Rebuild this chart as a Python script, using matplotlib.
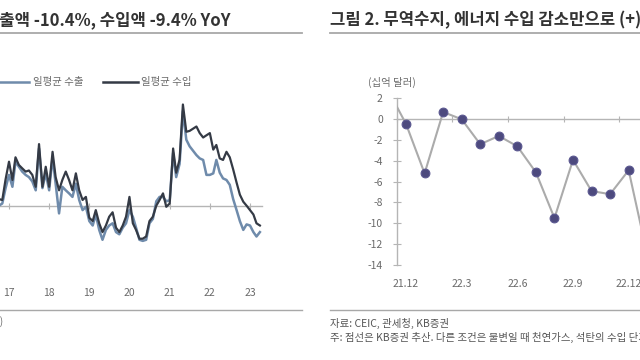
import numpy as np
import pandas as pd
import matplotlib
matplotlib.use('Agg')
import matplotlib.pyplot as plt
import matplotlib.dates as mdates
from matplotlib.lines import Line2D

plt.rcParams['font.family'] = ['Noto Sans CJK KR', 'DejaVu Sans']

# ---------------- data: left chart (daily-average exports / imports, % YoY) ----
months_left = pd.date_range('2016-08-01', periods=81, freq='MS')
import_yoy = [0, -3, 3, 2.6, 12, 20, 11.7, 22, 18.5, 17, 15.5, 16, 14,
              8.6, 28, 8.6, 17.7, 8.6, 24.5, 13, 7, 11.7, 15.5, 11.7, 7,
              14.7, 7, 2.6, 4, -5.5, -7, -2, -8, -12, -9, -5, -3, -10, -12,
              -9, -5, 4, -8, -11, -15, -15, -14, -7, -5, 0, 2.6, 5.6, -0.5,
              1, 26, 15, 21, 46, 33.6, 34, 35, 36, 33, 31, 32, 33, 25.5,
              27.6, 21.5, 20.8, 24.5, 22, 16.5, 10.5, 5, 1.8, 0, -2, -4,
              -8, -9]
export_yoy = [-3, -6, 0, 1, 8, 14, 8.6, 20, 17.7, 15.5, 14, 13, 11,
              7, 26, 8, 14.7, 7, 22, 10, -3.5, 8.6, 7, 5.6, 4,
              10, 2.6, -2, -0.5, -7, -9, -4, -11, -15.5, -11, -9, -8, -12,
              -13, -10, -8, -2, -5, -10, -15.5, -16, -15.5, -8, -6, 2, 4,
              4, 2, 2.5, 24, 13, 19, 43, 30, 27, 25, 23, 21.5, 20.8, 14,
              14, 14.7, 20.8, 15, 12.4, 11.7, 9.5, 3, -2, -7, -11, -8.5,
              -9, -12, -14, -12]
year_ticks = pd.to_datetime(['2017-01-01', '2018-01-01', '2019-01-01',
                             '2020-01-01', '2021-01-01', '2022-01-01',
                             '2023-01-01'])
year_labels = ['17', '18', '19', '20', '21', '22', '23']

# ---------------- data: right chart (trade balance, bn USD) ----------------
months_right = ['21.11', '21.12', '22.1', '22.2', '22.3', '22.4', '22.5',
                '22.6', '22.7', '22.8', '22.9', '22.10', '22.11', '22.12',
                '23.1']
trade_balance = [2.9, -0.45, -5.2, 0.7, 0.0, -2.4, -1.6, -2.6, -5.1, -9.5,
                 -3.9, -6.9, -7.2, -4.9, -13.0]
right_tick_labels = ['21.12', '22.3', '22.6', '22.9', '22.12']
y_ticks_right = [2, 0, -2, -4, -6, -8, -10, -12, -14]

W, H = 640, 360
fig = plt.figure(figsize=(6.4, 3.6), dpi=100)


def fx(px):
    return px / W


def fy(py):
    return 1 - py / H


GRAY_TXT = '#6a6a6a'
AXIS_GRAY = '#b5b5b5'

# ---------------- titles & rules ----------------
fig.text(fx(231), fy(20), '일평균 수출액 -10.4%, 수입액 -9.4% YoY', ha='right',
         va='center', fontsize=12, fontweight='bold', color='#333333')
fig.text(fx(330), fy(20), '그림 2. 무역수지, 에너지 수입 감소만으로 (+) 전환',
         ha='left', va='center', fontsize=12, fontweight='bold', color='#333333')
for x0, x1 in [(0, 302), (330, 640)]:
    fig.add_artist(Line2D([fx(x0), fx(x1)], [fy(33), fy(33)],
                          color='#a8a8a8', lw=1.3, transform=fig.transFigure))
    fig.add_artist(Line2D([fx(x0), fx(x1)], [fy(310), fy(310)],
                          color='#a8a8a8', lw=1.0, transform=fig.transFigure))

# ---------------- left chart ----------------
EXP_C = '#6f8bab'
IMP_C = '#343a45'
px_per_day = (250 - 9) / (mdates.date2num(year_ticks[-1]) - mdates.date2num(year_ticks[0]))
d0 = mdates.date2num(year_ticks[0])
L_left, L_right = -50, 262
y_lo, y_hi = -30, 50
zero_py = 205.7
ppu = 2.2
top_py = zero_py - y_hi * ppu
bot_py = zero_py - y_lo * ppu
axL = fig.add_axes([fx(L_left), fy(bot_py), fx(L_right - L_left), (bot_py - top_py) / H])
axL.plot(months_left, export_yoy, color=EXP_C, lw=1.8, zorder=3)
axL.plot(months_left, import_yoy, color=IMP_C, lw=1.6, zorder=4)
axL.set_xlim(d0 - (9 - L_left) / px_per_day, d0 + (L_right - 9) / px_per_day)
axL.set_ylim(y_lo, y_hi)
for s in axL.spines.values():
    s.set_visible(False)
axL.set_yticks([])
axL.set_xticks(year_ticks)
axL.set_xticklabels(year_labels)
axL.tick_params(axis='x', length=0, pad=12, labelsize=7.5, labelcolor=GRAY_TXT)
secL = axL.secondary_xaxis((0 - y_lo) / (y_hi - y_lo))
secL.set_xticks(year_ticks)
secL.tick_params(labelbottom=False, labeltop=False, direction='inout', length=4,
                 color=AXIS_GRAY)
for s in secL.spines.values():
    s.set_color(AXIS_GRAY)
    s.set_linewidth(1.0)
secL.set_zorder(1)

# legend (left)
fig.add_artist(Line2D([fx(-10), fx(29)], [fy(82), fy(82)], color=EXP_C, lw=1.8,
                      transform=fig.transFigure))
fig.text(fx(33), fy(82), '일평균 수출', ha='left', va='center', fontsize=7.5,
         color=GRAY_TXT)
fig.add_artist(Line2D([fx(103), fx(138)], [fy(82), fy(82)], color=IMP_C, lw=1.8,
                      transform=fig.transFigure))
fig.text(fx(141), fy(82), '일평균 수입', ha='left', va='center', fontsize=7.5,
         color=GRAY_TXT)
fig.text(fx(3), fy(322), '(3개월 이동평균)', ha='right', va='center', fontsize=7,
         color=GRAY_TXT)

# ---------------- right chart ----------------
xr = np.arange(len(months_right))
step = 18.55
x_origin = 387.5
R_left_px, R_right_px = 396.7, 700
yr_lo, yr_hi = -14, 2
zero_r = 119.3
ppu_r = 10.4
topr = zero_r - yr_hi * ppu_r
botr = zero_r - yr_lo * ppu_r
axR = fig.add_axes([fx(R_left_px), fy(botr), fx(R_right_px - R_left_px), (botr - topr) / H])
axR.plot(xr, trade_balance, color='#ababab', lw=1.5, zorder=3,
         marker='o', markersize=6.3, markerfacecolor='#4d4a7e',
         markeredgecolor='#5a5790', markeredgewidth=0.8)
axR.set_xlim((R_left_px - x_origin) / step, (R_right_px - x_origin) / step)
axR.set_ylim(yr_lo, yr_hi)
for k in ['top', 'right', 'bottom']:
    axR.spines[k].set_visible(False)
axR.spines['left'].set_color(AXIS_GRAY)
axR.spines['left'].set_linewidth(1.0)
axR.set_yticks(y_ticks_right)
axR.set_yticklabels([str(v) for v in y_ticks_right])
axR.tick_params(axis='y', direction='inout', length=6, color=AXIS_GRAY,
                labelsize=7.5, labelcolor=GRAY_TXT, pad=7)
label_pos = [months_right.index(m) for m in right_tick_labels]
axR.set_xticks(label_pos)
axR.set_xticklabels(right_tick_labels)
axR.tick_params(axis='x', length=0, pad=10, labelsize=7.5, labelcolor=GRAY_TXT)
secR = axR.secondary_xaxis((0 - yr_lo) / (yr_hi - yr_lo))
secR.set_xticks([p - 0.5 for p in label_pos] + [label_pos[-1] + 2.5])
secR.tick_params(labelbottom=False, labeltop=False, direction='inout', length=4,
                 color=AXIS_GRAY)
for s in secR.spines.values():
    s.set_color(AXIS_GRAY)
    s.set_linewidth(1.0)
secR.set_zorder(1)

fig.text(fx(392), fy(82), '(십억 달러)', ha='center', va='center', fontsize=7.5,
         color=GRAY_TXT)
fig.text(fx(330), fy(323), '자료: CEIC, 관세청, KB증권', ha='left', va='center',
         fontsize=7.5, color='#555555')
fig.text(fx(330), fy(337),
         '주: 점선은 KB증권 추산. 다른 조건은 불변일 때 천연가스, 석탄의 수입 단가 하락 시',
         ha='left', va='center', fontsize=7.5, color='#555555')

fig.savefig('out.png', dpi=100)
